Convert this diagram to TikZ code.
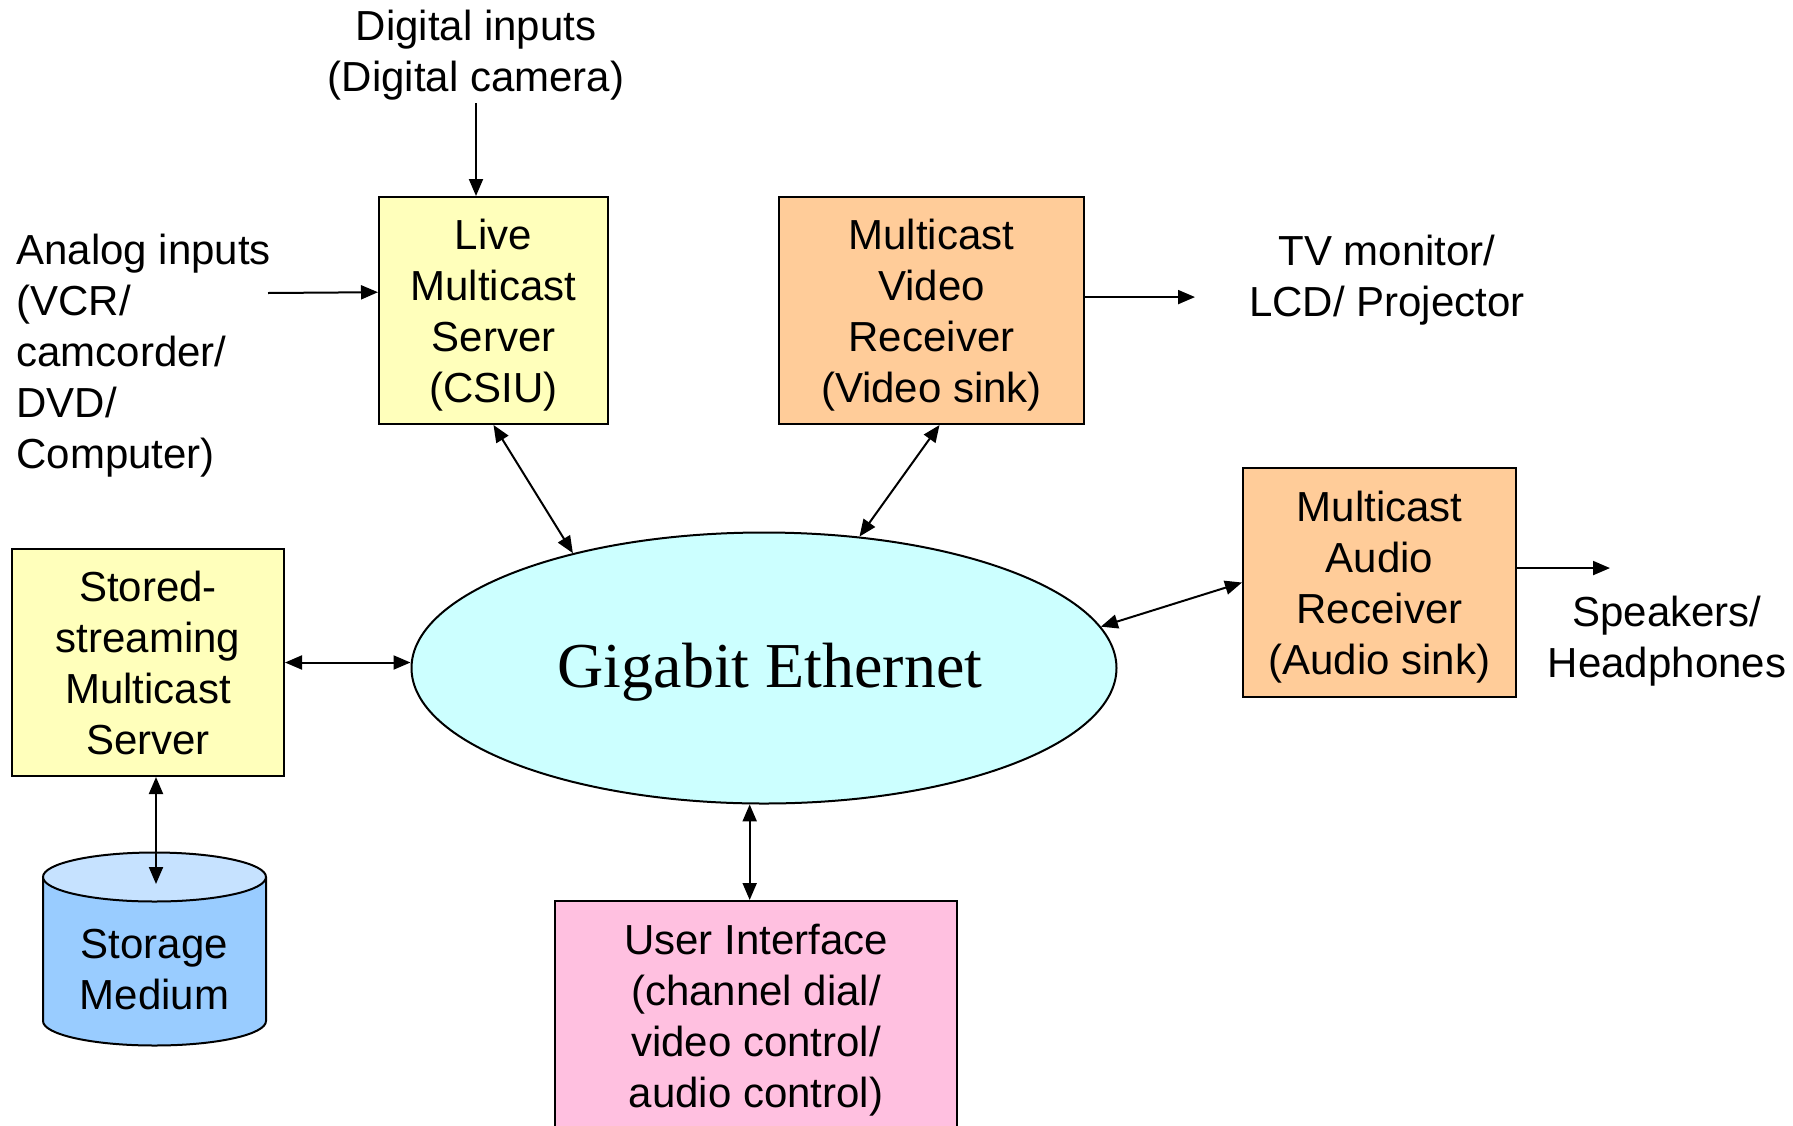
\documentclass[tikz,border=0pt]{standalone}
\usepackage{fontspec}
\setmainfont{Liberation Sans}
\newfontfamily\timesface{Liberation Serif}
\usetikzlibrary{shapes.geometric,arrows.meta}
\definecolor{boxyellow}{RGB}{255,255,187}
\definecolor{boxorange}{RGB}{255,204,153}
\definecolor{netcyan}{RGB}{204,255,255}
\definecolor{boxpink}{RGB}{255,192,224}
\definecolor{diskblue}{RGB}{153,204,255}
\definecolor{disktop}{RGB}{198,226,255}

\begin{document}
\begin{tikzpicture}[x=0.5pt, y=-0.5pt,
    box/.style={rectangle, draw, line width=1pt, inner sep=0pt, align=center,
      font=\fontsize{21}{25.5}\selectfont, text height=97pt, text depth=5pt},
    txt/.style={inner sep=0pt, align=center, font=\fontsize{21}{25.5}\selectfont},
    link/.style={line width=1pt},
    >={Triangle[length=8.5pt,width=7pt]}]

  \useasboundingbox (0,0) rectangle (1793,1125);

  \node[box,fill=boxyellow,minimum width=114.5pt,minimum height=113.5pt] (L) at (493.5,310.5) {Live\\Multicast\\Server\\(CSIU)};
  \node[box,fill=boxorange,minimum width=152.5pt,minimum height=113.5pt] (V) at (931.5,310.5) {Multicast\\Video\\Receiver\\(Video sink)};
  \node[box,fill=boxorange,minimum width=136.5pt,minimum height=114.5pt] (A) at (1379.5,582.5) {Multicast\\Audio\\Receiver\\(Audio sink)};
  \node[box,fill=boxyellow,minimum width=136pt,minimum height=113.5pt] (S) at (148,662.5) {Stored-\\streaming\\Multicast\\Server};
  \node[box,fill=boxpink,minimum width=201pt,minimum height=114.5pt] (U) at (756,1015.5) {User Interface\\(channel dial/\\video control/\\audio control)};
  \node[ellipse,draw,line width=1pt,fill=netcyan,minimum width=352.5pt,minimum height=135.5pt,inner sep=0pt] (E) at (764,668) {};
  \node[inner sep=0pt,font=\timesface\fontsize{32}{36}\selectfont] (gbe) at (770,672) {Gigabit Ethernet};

  \fill[diskblue] (43,877) -- (43,1021) arc[start angle=180,end angle=360,x radius=55.75pt,y radius=12.25pt] -- (266,877) -- cycle;
  \draw[line width=1pt] (43,877) -- (43,1021) arc[start angle=180,end angle=360,x radius=55.75pt,y radius=12.25pt] -- (266,877);
  \draw[line width=1pt,fill=disktop] (154.5,877) ellipse [x radius=55.75pt,y radius=12.25pt];
  \node[txt] (M) at (154.5,970) {Storage\\Medium};

  \node[txt] (dig) at (476,55) {Digital inputs\\(Digital camera)};
  \node[txt,align=left,anchor=west] (ana) at (16,356) {Analog inputs\\(VCR/\\camcorder/\\DVD/\\Computer)};
  \node[txt] (tv) at (1387,280) {TV monitor/\\LCD/ Projector};
  \node[txt] (spk) at (1667,641) {Speakers/\\Headphones};

  \coordinate (digout) at (476,103);
  \coordinate (anaout) at (268,293);
  \coordinate (tvin) at (1195,296);
  \coordinate (spkin) at (1610,568);
  \coordinate (diskin) at (156,884);

  \draw[link,->] (digout) -- (digout |- L.north);
  \draw[link,->] (anaout) -- (L.171);
  \draw[link,->] (V.5) -- (V.5 -| tvin);
  \draw[link,->] (A.6) -- (A.6 -| spkin);

  \draw[link,<->] (L.south) -- (E.149);
  \draw[link,<->] (V.274) -- (E.54);
  \draw[link,<->] (A.west) -- (E.7);
  \draw[link,<->] (S.east) -- (S.east -| E.west);
  \draw[link,<->] (S.274) -- (S.274 |- diskin);
  \draw[link,<->] (E.264) -- (E.264 |- U.north);

\end{tikzpicture}
\end{document}
